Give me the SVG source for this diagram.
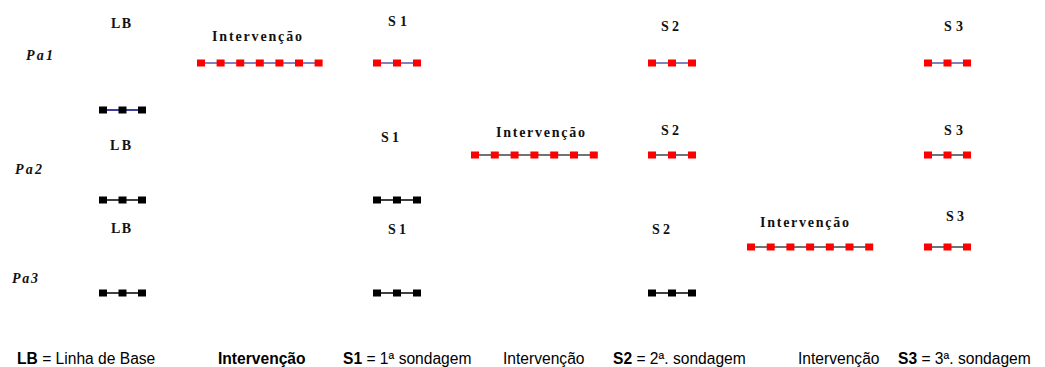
<svg xmlns="http://www.w3.org/2000/svg" xmlns:xlink="http://www.w3.org/1999/xlink" width="1045" height="367" viewBox="0 0 1045 367">
<style>
.lbl{font-family:"Liberation Serif","Times New Roman",serif;font-weight:bold;font-size:14px;fill:#111}
.pa{font-family:"Liberation Serif","Times New Roman",serif;font-weight:bold;font-style:italic;font-size:14px;fill:#111}
.leg{font-family:"Liberation Sans",Arial,sans-serif;font-size:15.6px;fill:#000}
.b{font-weight:bold}
.r{fill:#ff0000}
.k{fill:#000}
.lnb{stroke:#5a5aa6;stroke-width:1.6}
.lng{stroke:#444;stroke-width:1.4}
.lnn{stroke:#000080;stroke-width:1.4}
.lnk{stroke:#000;stroke-width:1.4}
</style>
<defs>
<rect id="sq" x="0" y="-3.5" width="8" height="7"/>
</defs>
<rect width="1045" height="367" fill="#fff"/>

<g id="connectors">
<line class="lnb" x1="201" y1="63" x2="319" y2="63"/>
<line class="lnb" x1="377" y1="63" x2="417" y2="63"/>
<line class="lnb" x1="652" y1="63" x2="692" y2="63"/>
<line class="lnb" x1="928" y1="63" x2="967" y2="63"/>
<line class="lnn" x1="103" y1="110" x2="142" y2="110"/>
<line class="lng" x1="475" y1="155" x2="594" y2="155"/>
<line class="lng" x1="652" y1="155" x2="692" y2="155"/>
<line class="lng" x1="928" y1="155" x2="967" y2="155"/>
<line class="lnk" x1="103" y1="200" x2="142" y2="200"/>
<line class="lnk" x1="377" y1="200" x2="417" y2="200"/>
<line class="lng" x1="751" y1="247" x2="869" y2="247"/>
<line class="lng" x1="928" y1="247" x2="967" y2="247"/>
<line class="lnk" x1="103" y1="293" x2="142" y2="293"/>
<line class="lnk" x1="377" y1="293" x2="417" y2="293"/>
<line class="lnk" x1="652" y1="293" x2="692" y2="293"/>
</g>

<g id="row1">
<text class="lbl" x="111" y="28" textLength="20" lengthAdjust="spacing">LB</text>
<text class="pa" x="26" y="60" textLength="27" lengthAdjust="spacing">Pa1</text>
<text class="lbl" x="212" y="41" textLength="90" lengthAdjust="spacing">Intervenção</text>
<text class="lbl" x="388" y="26" textLength="19" lengthAdjust="spacing">S1</text>
<text class="lbl" x="661" y="31" textLength="18" lengthAdjust="spacing">S2</text>
<text class="lbl" x="944" y="31" textLength="19" lengthAdjust="spacing">S3</text>
<g id="r1-int" class="r">
<use xlink:href="#sq" x="197" y="63"/><use xlink:href="#sq" x="216.6" y="63"/><use xlink:href="#sq" x="236.2" y="63"/><use xlink:href="#sq" x="255.8" y="63"/><use xlink:href="#sq" x="275.4" y="63"/><use xlink:href="#sq" x="295" y="63"/><use xlink:href="#sq" x="314.6" y="63"/>
</g>
<g id="r1-s1" class="r"><use xlink:href="#sq" x="373" y="63"/><use xlink:href="#sq" x="393" y="63"/><use xlink:href="#sq" x="413" y="63"/></g>
<g id="r1-s2" class="r"><use xlink:href="#sq" x="648" y="63"/><use xlink:href="#sq" x="668" y="63"/><use xlink:href="#sq" x="688" y="63"/></g>
<g id="r1-s3" class="r"><use xlink:href="#sq" x="924" y="63"/><use xlink:href="#sq" x="943.5" y="63"/><use xlink:href="#sq" x="963" y="63"/></g>
<g id="r1-lb" class="k"><use xlink:href="#sq" x="99" y="110"/><use xlink:href="#sq" x="118.5" y="110"/><use xlink:href="#sq" x="138" y="110"/></g>
</g>

<g id="row2">
<text class="lbl" x="110" y="150" textLength="21" lengthAdjust="spacing">LB</text>
<text class="pa" x="15" y="174" textLength="27" lengthAdjust="spacing">Pa2</text>
<text class="lbl" x="381" y="142" textLength="18" lengthAdjust="spacing">S1</text>
<text class="lbl" x="496" y="137" textLength="89" lengthAdjust="spacing">Intervenção</text>
<text class="lbl" x="661" y="135" textLength="18" lengthAdjust="spacing">S2</text>
<text class="lbl" x="944" y="135" textLength="19" lengthAdjust="spacing">S3</text>
<g id="r2-int" class="r">
<use xlink:href="#sq" x="471" y="155"/><use xlink:href="#sq" x="490.8" y="155"/><use xlink:href="#sq" x="510.6" y="155"/><use xlink:href="#sq" x="530.4" y="155"/><use xlink:href="#sq" x="550.2" y="155"/><use xlink:href="#sq" x="570" y="155"/><use xlink:href="#sq" x="589.8" y="155"/>
</g>
<g id="r2-s2" class="r"><use xlink:href="#sq" x="648" y="155"/><use xlink:href="#sq" x="668" y="155"/><use xlink:href="#sq" x="688" y="155"/></g>
<g id="r2-s3" class="r"><use xlink:href="#sq" x="924" y="155"/><use xlink:href="#sq" x="943.5" y="155"/><use xlink:href="#sq" x="963" y="155"/></g>
<g id="r2-lb" class="k"><use xlink:href="#sq" x="99" y="200"/><use xlink:href="#sq" x="118.5" y="200"/><use xlink:href="#sq" x="138" y="200"/></g>
<g id="r2-s1" class="k"><use xlink:href="#sq" x="373" y="200"/><use xlink:href="#sq" x="393" y="200"/><use xlink:href="#sq" x="413" y="200"/></g>
</g>

<g id="row3">
<text class="lbl" x="111" y="233" textLength="20" lengthAdjust="spacing">LB</text>
<text class="pa" x="12" y="283" textLength="26" lengthAdjust="spacing">Pa3</text>
<text class="lbl" x="388" y="234" textLength="18" lengthAdjust="spacing">S1</text>
<text class="lbl" x="652" y="234" textLength="18" lengthAdjust="spacing">S2</text>
<text class="lbl" x="760" y="227" textLength="89" lengthAdjust="spacing">Intervenção</text>
<text class="lbl" x="946" y="221" textLength="18" lengthAdjust="spacing">S3</text>
<g id="r3-int" class="r">
<use xlink:href="#sq" x="747" y="247"/><use xlink:href="#sq" x="766.7" y="247"/><use xlink:href="#sq" x="786.4" y="247"/><use xlink:href="#sq" x="806.1" y="247"/><use xlink:href="#sq" x="825.8" y="247"/><use xlink:href="#sq" x="845.5" y="247"/><use xlink:href="#sq" x="865.2" y="247"/>
</g>
<g id="r3-s3" class="r"><use xlink:href="#sq" x="924" y="247"/><use xlink:href="#sq" x="943.5" y="247"/><use xlink:href="#sq" x="963" y="247"/></g>
<g id="r3-lb" class="k"><use xlink:href="#sq" x="99" y="293"/><use xlink:href="#sq" x="118.5" y="293"/><use xlink:href="#sq" x="138" y="293"/></g>
<g id="r3-s1" class="k"><use xlink:href="#sq" x="373" y="293"/><use xlink:href="#sq" x="393" y="293"/><use xlink:href="#sq" x="413" y="293"/></g>
<g id="r3-s2" class="k"><use xlink:href="#sq" x="648" y="293"/><use xlink:href="#sq" x="668" y="293"/><use xlink:href="#sq" x="688" y="293"/></g>
</g>

<g id="legend">
<text class="leg" x="17" y="364"><tspan class="b">LB</tspan> = Linha de Base</text>
<text class="leg b" x="218" y="364">Intervenção</text>
<text class="leg" x="343" y="364"><tspan class="b">S1</tspan> = 1ª sondagem</text>
<text class="leg" x="503" y="364">Intervenção</text>
<text class="leg" x="613" y="364"><tspan class="b">S2</tspan> = 2ª. sondagem</text>
<text class="leg" x="798" y="364">Intervenção</text>
<text class="leg" x="898" y="364"><tspan class="b">S3</tspan> = 3ª. sondagem</text>
</g>
</svg>
